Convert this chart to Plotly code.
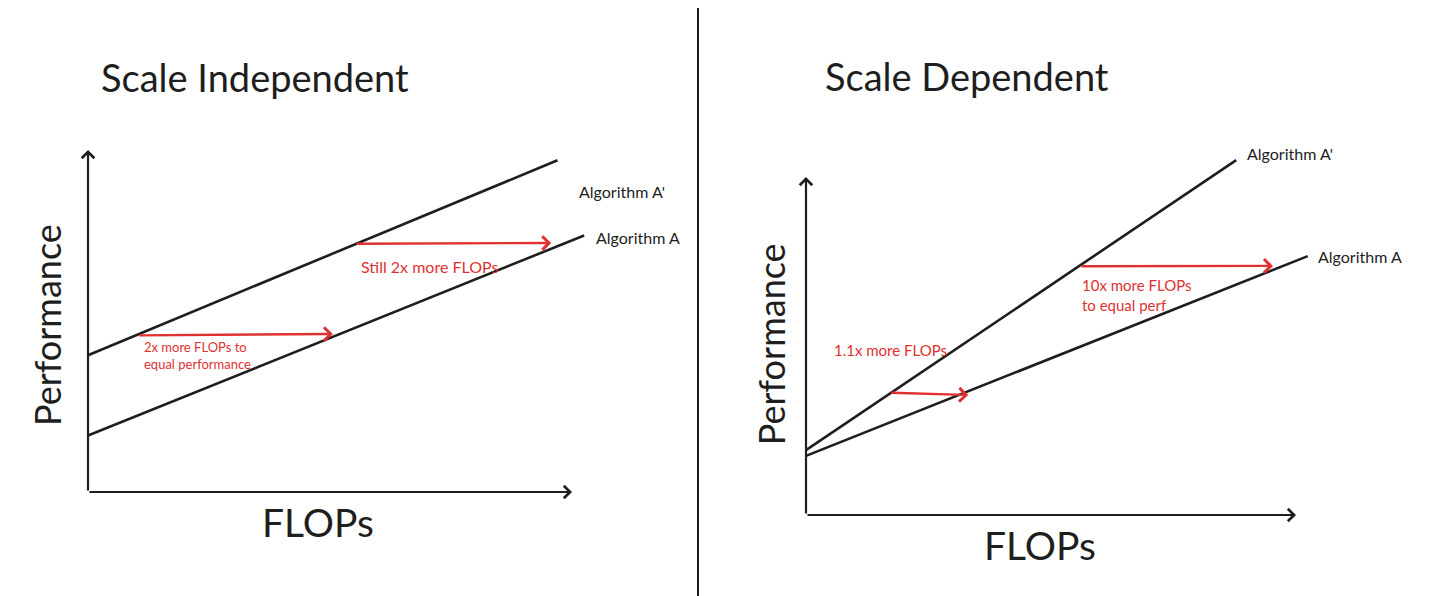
import plotly.graph_objects as go

# ---- data (arbitrary FLOPs / Performance units) ----
# left panel: scale independent (parallel lines)
li_flops_a_prime = [0.0, 9.7]
li_perf_a_prime = [4.0, 9.7]
li_flops_a = [0.0, 10.25]
li_perf_a = [1.65, 7.5]
li_arrow_start = [(1.03, 4.58), (5.52, 7.26)]
li_arrow_end = [(5.06, 4.62), (9.57, 7.28)]

# right panel: scale dependent (diverging lines)
rd_flops_a_prime = [0.0, 8.78]
rd_perf_a_prime = [1.92, 10.5]
rd_flops_a = [0.0, 10.24]
rd_perf_a = [1.75, 7.66]
rd_arrow_start = [(1.71, 3.62), (5.59, 7.36)]
rd_arrow_end = [(3.31, 3.55), (9.53, 7.37)]

axis_len = 10.0

INK = "#1e1e1e"
RED = "#e03131"
FONT = "Lato"

fig = go.Figure()

for flops, perf, xa, ya in [
    (li_flops_a_prime, li_perf_a_prime, "x", "y"),
    (li_flops_a, li_perf_a, "x", "y"),
    (rd_flops_a_prime, rd_perf_a_prime, "x2", "y2"),
    (rd_flops_a, rd_perf_a, "x2", "y2"),
]:
    fig.add_trace(go.Scatter(x=flops, y=perf, mode="lines", xaxis=xa, yaxis=ya,
                             line=dict(color=INK, width=2.6), showlegend=False,
                             hoverinfo="skip", cliponaxis=False))

anns = []


def arrow(start, end, xa, ya, color, width=2.4):
    anns.append(dict(x=end[0], y=end[1], ax=start[0], ay=start[1],
                     xref=xa, yref=ya, axref=xa, ayref=ya, text="",
                     showarrow=True, arrowhead=4, arrowsize=1.1,
                     arrowwidth=width, arrowcolor=color))


# axes with arrows
for xa, ya in [("x", "y"), ("x2", "y2")]:
    arrow((0, 0), (0, axis_len), xa, ya, INK, 2.2)
    arrow((0, 0), (axis_len, 0), xa, ya, INK, 2.2)

for s, e in zip(li_arrow_start, li_arrow_end):
    arrow(s, e, "x", "y", RED)
for s, e in zip(rd_arrow_start, rd_arrow_end):
    arrow(s, e, "x2", "y2", RED)


def label(text, x, y, xa, ya, size, color=INK, anchor="left", angle=0):
    anns.append(dict(text=text, x=x, y=y, xref=xa, yref=ya, showarrow=False,
                     xanchor=anchor, yanchor="middle", textangle=angle,
                     align="left", font=dict(family=FONT, size=size, color=color)))


# left panel texts
label("Scale Independent", 3.45, 12.13, "x", "y", 38, anchor="center")
label("Performance", -0.85, 4.88, "x", "y", 36, anchor="center", angle=-90)
label("FLOPs", 4.75, -0.88, "x", "y", 39, anchor="center")
label("Algorithm A'", 10.1, 8.8, "x", "y", 16)
label("Algorithm A", 10.45, 7.45, "x", "y", 16)
label("Still 2x more FLOPs", 5.6, 6.6, "x", "y", 16, color=RED)
label("2x more FLOPs to<br>equal performance", 1.12, 4.0, "x", "y", 13, color=RED)

# right panel texts
label("Scale Dependent", 3.29, 13.0, "x2", "y2", 38, anchor="center")
label("Performance", -0.71, 5.06, "x2", "y2", 36, anchor="center", angle=-90)
label("FLOPs", 4.78, -0.89, "x2", "y2", 39, anchor="center")
label("Algorithm A'", 8.95, 10.7, "x2", "y2", 16)
label("Algorithm A", 10.4, 7.66, "x2", "y2", 16)
label("10x more FLOPs<br>to equal perf", 5.6, 6.5, "x2", "y2", 15, color=RED)
label("1.1x more FLOPs", 0.53, 4.88, "x2", "y2", 15, color=RED)

# page body adds an 8px offset, so the figure is 8px smaller on each axis
W, H = 1448, 588
split = 690 / W

fig.update_layout(
    width=W, height=H,
    margin=dict(l=0, r=0, t=0, b=0),
    paper_bgcolor="white", plot_bgcolor="white",
    xaxis=dict(domain=[0, split], range=[-1.653, 12.603], visible=False),
    yaxis=dict(domain=[0, 1], range=[-3.041, 14.152], visible=False),
    xaxis2=dict(domain=[split, 1], range=[-2.204, 13.265], visible=False),
    yaxis2=dict(domain=[0, 1], range=[-2.396, 15.0], visible=False, anchor="x2"),
    annotations=anns,
    shapes=[dict(type="line", xref="paper", yref="paper", x0=split, x1=split,
                 y0=0, y1=1.02, line=dict(color=INK, width=2))],
)

fig.write_html("out.html")
